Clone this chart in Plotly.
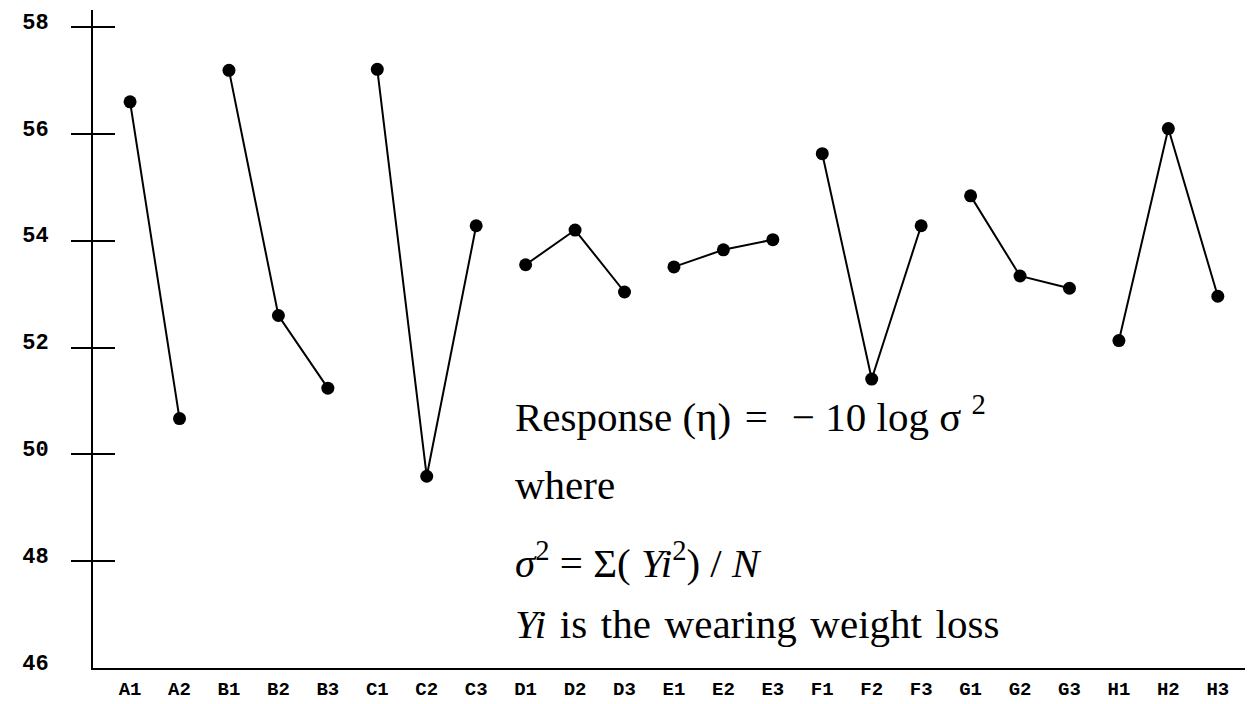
import plotly.graph_objects as go

# ---- data ----
factors = ["A", "B", "C", "D", "E", "F", "G", "H"]
A_vals = [56.60, 50.67]
B_vals = [57.19, 52.60, 51.24]
C_vals = [57.21, 49.59, 54.28]
D_vals = [53.55, 54.20, 53.04]
E_vals = [53.51, 53.83, 54.02]
F_vals = [55.63, 51.41, 54.28]
G_vals = [54.84, 53.34, 53.11]
H_vals = [52.13, 56.10, 52.96]
series = [A_vals, B_vals, C_vals, D_vals, E_vals, F_vals, G_vals, H_vals]

y_tick_vals = [46, 48, 50, 52, 54, 56, 58]
y_tick_marks = [48, 50, 52, 54, 56, 58]

categories = []
for f, vals in zip(factors, series):
    categories += [f"{f}{i + 1}" for i in range(len(vals))]

fig = go.Figure()
for f, vals in zip(factors, series):
    fig.add_trace(go.Scatter(
        x=[f"{f}{i + 1}" for i in range(len(vals))],
        y=vals,
        mode="lines+markers",
        line=dict(color="black", width=2),
        marker=dict(color="black", size=13),
        showlegend=False,
        hoverinfo="x+y",
    ))

# helper empty traces so the overlay axes (tick marks) are drawn
fig.add_trace(go.Scatter(x=[categories[0]], y=[None], yaxis="y2", showlegend=False, hoverinfo="skip"))
fig.add_trace(go.Scatter(x=[categories[0]], y=[None], yaxis="y3", showlegend=False, hoverinfo="skip"))

yrange = [46, 58.32]
tickfont_y = dict(family="Liberation Mono", size=22, color="black", weight="bold")
tickfont_x = dict(family="Liberation Mono", size=19, color="black", weight="bold")

fig.update_layout(
    width=1255, height=704,
    margin=dict(l=93, r=10, t=10, b=36, autoexpand=False),
    paper_bgcolor="white", plot_bgcolor="white",
    xaxis=dict(
        type="category", categoryorder="array", categoryarray=categories,
        range=[-0.75, 22.55], automargin=False,
        showline=True, linecolor="black", linewidth=2,
        showgrid=False, zeroline=False, ticks="",
        tickfont=tickfont_x, ticklabelstandoff=2,
    ),
    yaxis=dict(
        range=yrange, tickvals=y_tick_vals, automargin=False,
        ticktext=[str(v) for v in y_tick_vals],
        showline=True, linecolor="black", linewidth=2,
        showgrid=False, zeroline=False, ticks="",
        tickfont=tickfont_y, ticklabelstandoff=38, ticklabelshift=-6,
    ),
    yaxis2=dict(
        range=yrange, overlaying="y", side="left", tickvals=y_tick_marks,
        ticks="outside", ticklen=21, tickwidth=2, tickcolor="black", automargin=False,
        showticklabels=False, showgrid=False, zeroline=False, showline=False,
    ),
    yaxis3=dict(
        range=yrange, overlaying="y", side="left", tickvals=y_tick_marks,
        ticks="inside", ticklen=22, tickwidth=2, tickcolor="black", automargin=False,
        showticklabels=False, showgrid=False, zeroline=False, showline=False,
    ),
)

NB = "\u00a0"
HS = "\u200a"
serif = dict(family="Liberation Serif", size=41, color="black")
text_lines = [
    (f"Response (η){HS} ={NB}{HS} − 10 log σ <sup>2</sup>", 414),
    ("where", 485),
    ("<i>σ</i><sup>2</sup> = Σ( <i>Yi</i><sup>2</sup>) / <i>N</i>", 560),
    (f"<i>Yi</i>{HS} is{HS} the{HS} wearing{HS} weight{HS} loss", 624),
]
plot_top, plot_h, plot_left, plot_w = 10, 658, 93, 1152
for txt, ypx in text_lines:
    fig.add_annotation(
        text=txt, xref="paper", yref="paper",
        x=(513 - plot_left) / plot_w, y=(plot_top + plot_h - ypx) / plot_h,
        xanchor="left", yanchor="middle", showarrow=False, font=serif,
    )

fig.write_html("out.html")
